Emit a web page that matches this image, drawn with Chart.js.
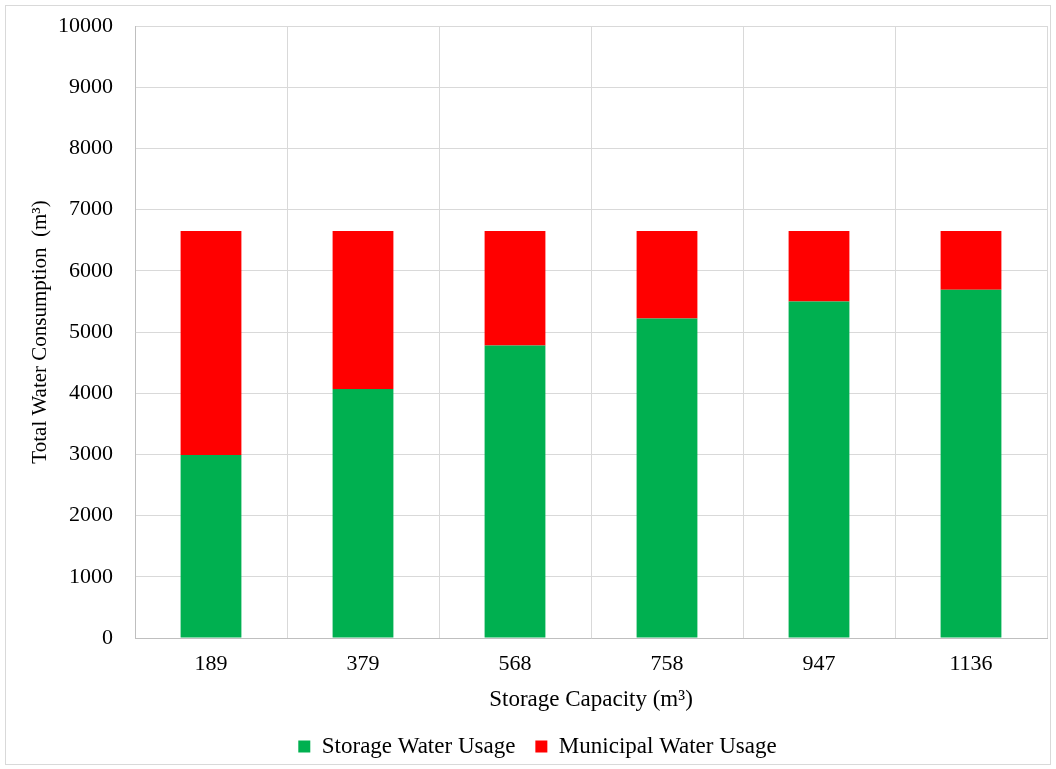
<!DOCTYPE html>
<html>
<head>
<meta charset="utf-8">
<script src="https://cdn.jsdelivr.net/npm/chart.js@4.4.1/dist/chart.umd.min.js"></script>
<style>
  body { margin: 0; background: #fff; }
  #wrap { position: relative; width: 1056px; height: 769px; }
  #frame { position: absolute; left: 5px; top: 5px; width: 1044px; height: 758px; border: 1px solid #d9d9d9; }
  canvas { position: absolute; left: 0; top: 0; }
</style>
</head>
<body>
<div id="wrap">
  <div id="frame"></div>
  <canvas id="chart" width="1056" height="769"></canvas>
</div>
<script>
// Storage capacity categories (m³)
const capacities = ["189", "379", "568", "758", "947", "1136"];
// Water consumption split (m³)
const storageUsage = [2990, 4070, 4780, 5220, 5500, 5690];
const municipalUsage = [3660, 2580, 1870, 1430, 1150, 960];
const yTicks = [0, 1000, 2000, 3000, 4000, 5000, 6000, 7000, 8000, 9000, 10000];

const FONT = "'Liberation Serif', 'Times New Roman', serif";
const GRID = "#d9d9d9";
const TEXT = "#000";

const canvas = document.getElementById("chart");
new Chart(canvas, {
  type: "bar",
  data: {
    labels: capacities,
    datasets: [
      {
        label: "Storage Water Usage",
        data: storageUsage,
        backgroundColor: "#00b050",
        categoryPercentage: 1,
        barPercentage: 0.4,
      },
      {
        label: "Municipal Water Usage",
        data: municipalUsage,
        backgroundColor: "#ff0000",
        categoryPercentage: 1,
        barPercentage: 0.4,
      },
    ],
  },
  options: {
    responsive: false,
    animation: false,
    layout: { padding: { left: 28, right: 9, top: 26, bottom: 1 } },
    plugins: {
      tooltip: { enabled: false },
      legend: {
        position: "bottom",
        labels: {
          font: { family: FONT, size: 23 },
          color: TEXT,
          boxWidth: 12,
          boxHeight: 12,
          padding: 20,
        },
      },
    },
    scales: {
      x: {
        stacked: true,
        grid: { color: GRID, lineWidth: 1, drawTicks: false },
        border: { color: "#bfbfbf" },
        ticks: { font: { family: FONT, size: 22 }, color: TEXT, padding: 13 },
        title: {
          display: true,
          text: "Storage Capacity (m³)",
          font: { family: FONT, size: 23 },
          color: TEXT,
          padding: { top: -4, bottom: 1 },
        },
      },
      y: {
        stacked: true,
        min: 0,
        max: 10000,
        afterBuildTicks: (scale) => { scale.ticks = yTicks.map((v) => ({ value: v })); },
        afterFit: (scale) => {
          scale.width = 107;
          scale.paddingTop = 0;
          scale.paddingBottom = 0;
        },
        grid: { color: GRID, lineWidth: 1, drawTicks: false },
        border: { color: "#bfbfbf" },
        ticks: {
          font: { family: FONT, size: 22 },
          color: TEXT,
          padding: 22,
          callback: (v) => String(v),
        },
        title: {
          display: true,
          text: "Total Water Consumption  (m³)",
          font: { family: FONT, size: 21 },
          color: TEXT,
          padding: { top: 0, bottom: 0 },
        },
      },
    },
  },
});
</script>
</body>
</html>
